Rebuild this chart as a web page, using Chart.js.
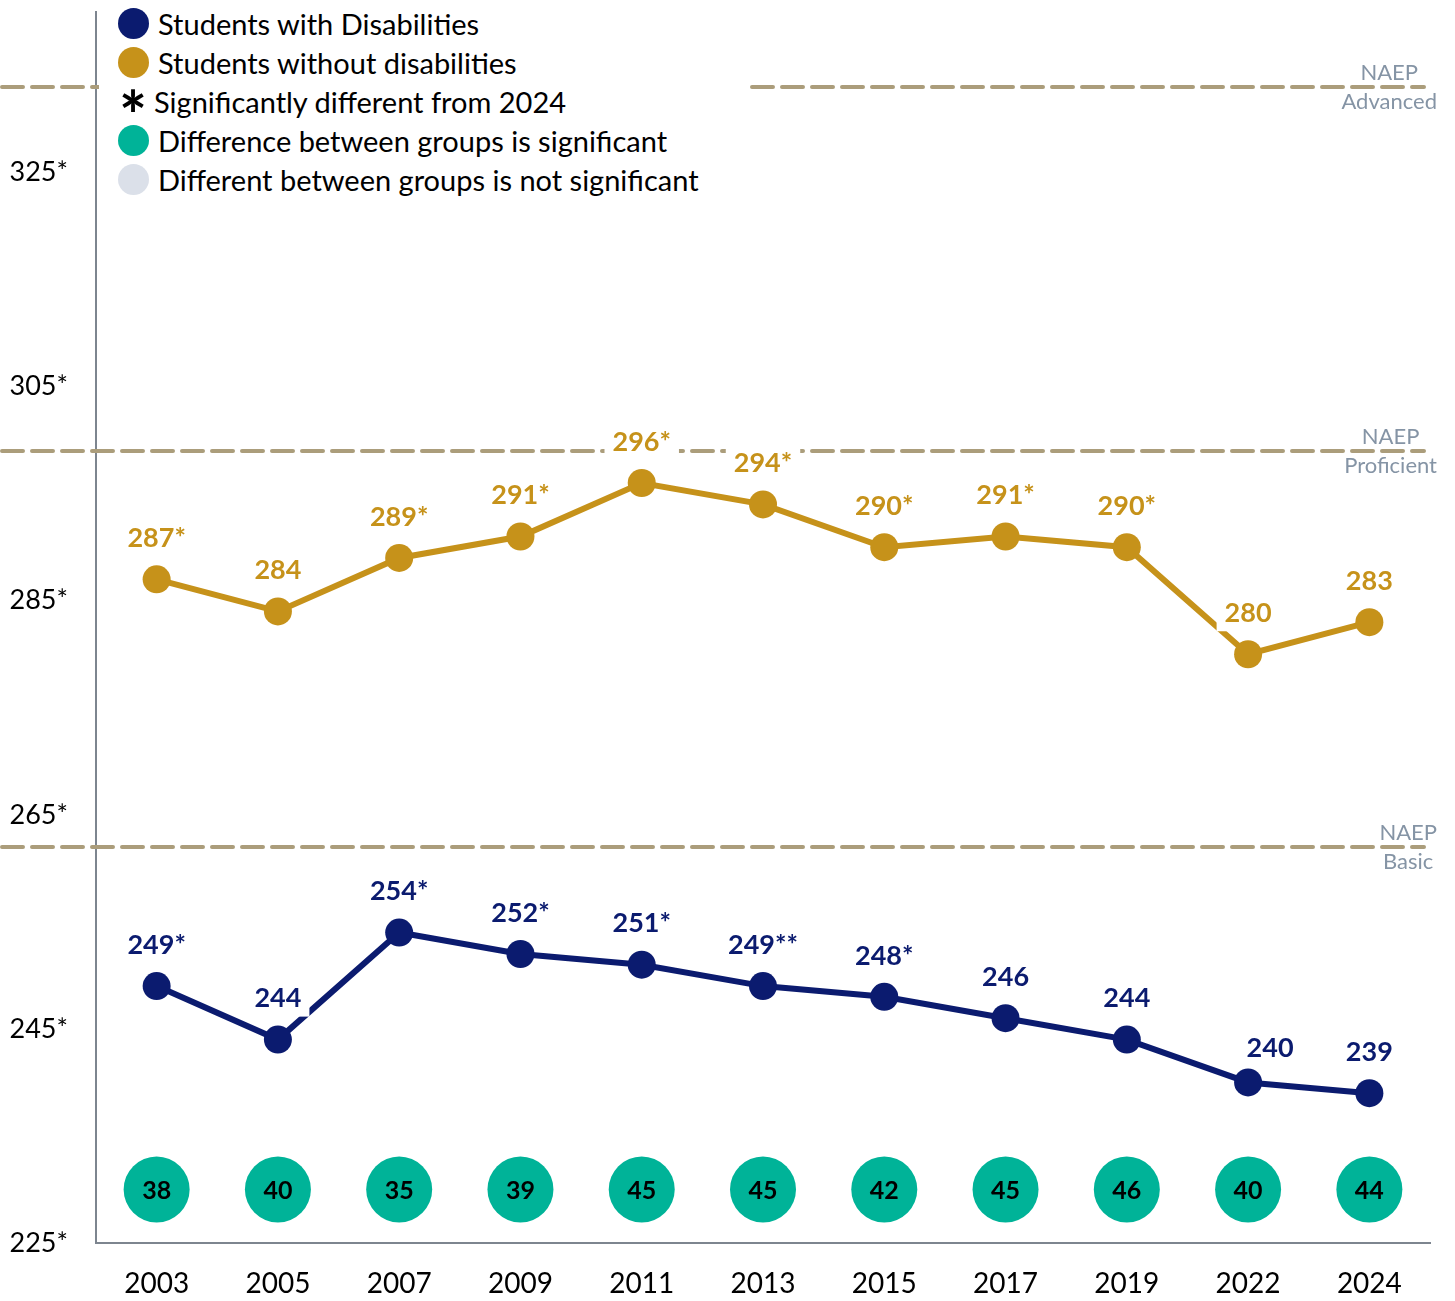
<!DOCTYPE html>
<html>
<head>
<meta charset="utf-8">
<script src="https://cdn.jsdelivr.net/npm/chart.js@4"></script>
<style>
  body { margin: 0; background: #fff; font-family: Lato, sans-serif; }
  #wrap { position: relative; width: 1455px; height: 1301px; }
  #legend { position: absolute; left: 99px; top: 0; width: 646px; height: 200px; background: #fff; }
  .row { position: absolute; left: 0; height: 39px; width: 646px; }
  .dot { position: absolute; left: 19px; top: 4px; width: 31px; height: 31px; border-radius: 50%; }
  .star { position: absolute; left: 20px; top: 0; font-weight: bold; font-size: 66px; line-height: 1; color: #000; }
  .txt { position: absolute; left: 59px; top: 0; font-size: 29px; line-height: 39px; color: #000; white-space: nowrap; }
</style>
</head>
<body>
<div id="wrap">
  <canvas id="grafico" width="1455" height="1301"></canvas>
  <div id="legend"></div>
</div>
<script>
// datos
const anios = ['2003', '2005', '2007', '2009', '2011', '2013', '2015', '2017', '2019', '2022', '2024'];
const conDiscapacidad = [249, 244, 254, 252, 251, 249, 248, 246, 244, 240, 239];
const conDiscapacidadEtiquetas = ['249*', '244', '254*', '252*', '251*', '249**', '248*', '246', '244', '240', '239'];
const sinDiscapacidad = [287, 284, 289, 291, 296, 294, 290, 291, 290, 280, 283];
const sinDiscapacidadEtiquetas = ['287*', '284', '289*', '291*', '296*', '294*', '290*', '291*', '290*', '280', '283'];
const brecha = [38, 40, 35, 39, 45, 45, 42, 45, 46, 40, 44];
const ticksY = [225, 245, 265, 285, 305, 325];
const nivelesNaep = ['Advanced', 'Proficient', 'Basic'];
const cortesNaep = [333, 299, 262];
const leyendaTextos = ['Students with Disabilities', 'Students without disabilities', 'Significantly different from 2024',
  'Difference between groups is significant', 'Different between groups is not significant'];
const leyendaColores = ['#0b1b6f', '#c6921a', null, '#00b398', '#dbe0e9'];

const AZUL = '#0b1b6f';
const DORADO = '#c6921a';
const VERDE = '#00b398';
const GUIA = '#ab9d7b';
const GRIS = '#7d858f';

// leyenda en html
const leyenda = document.getElementById('legend');
leyendaTextos.forEach((texto, i) => {
  const fila = document.createElement('div');
  fila.className = 'row';
  fila.style.top = (4 + i * 39) + 'px';
  if (leyendaColores[i]) {
    fila.innerHTML = '<span class="dot" style="background:' + leyendaColores[i] + '"></span>';
  } else {
    fila.innerHTML = '<span class="star">*</span>';
  }
  fila.innerHTML += '<span class="txt"' + (leyendaColores[i] ? '' : ' style="left:55px"') + '>' + texto + '</span>';
  leyenda.appendChild(fila);
});

// lineas NAEP y etiquetas de datos
const extras = {
  id: 'extras',
  beforeDatasetsDraw(chart) {
    const ctx = chart.ctx;
    const y = chart.scales.y;
    ctx.save();
    ctx.strokeStyle = GUIA;
    ctx.lineWidth = 4;
    ctx.lineCap = 'round';
    ctx.setLineDash([21, 9]);
    cortesNaep.forEach((v, i) => {
      const py = Math.round(y.getPixelForValue(v));
      ctx.beginPath();
      ctx.moveTo(2, py);
      ctx.lineTo(chart.chartArea.right - 6, py);
      ctx.stroke();

      ctx.font = '22px Lato';
      ctx.fillStyle = '#8594a5';
      ctx.textAlign = 'center';
      ctx.textBaseline = 'middle';
      const ancho = Math.max(ctx.measureText('NAEP').width, ctx.measureText(nivelesNaep[i]).width);
      const cx = chart.width - 18 - ancho / 2;
      ctx.fillText('NAEP', cx, py - 14);
      ctx.fillText(nivelesNaep[i], cx, py + 15);
    });
    ctx.restore();
  },
  afterDatasetsDraw(chart) {
    const ctx = chart.ctx;
    ctx.save();
    ctx.textAlign = 'center';
    ctx.textBaseline = 'middle';
    ctx.font = 'bold 27px Lato';
    [[0, conDiscapacidadEtiquetas, AZUL], [1, sinDiscapacidadEtiquetas, DORADO]].forEach(([d, etiquetas, color]) => {
      chart.getDatasetMeta(d).data.forEach((p, i) => {
        let x = p.x;
        let ty = p.y - 42;
        if (d === 0 && i === 9) { x += 22; ty = p.y - 35; }
        const w = ctx.measureText(etiquetas[i]).width;
        ctx.fillStyle = '#fff';
        ctx.fillRect(x - w / 2 - 8, ty - 19, w + 16, 38);
        ctx.fillStyle = color;
        ctx.fillText(etiquetas[i], x, ty + 1);
      });
    });
    ctx.font = 'bold 25px Lato';
    ctx.fillStyle = '#000';
    chart.getDatasetMeta(2).data.forEach((p, i) => {
      ctx.fillText(String(brecha[i]), p.x, p.y + 1);
    });
    ctx.restore();
  }
};

const ctx = document.getElementById('grafico').getContext('2d');

new Chart(ctx, {
  type: 'line',
  data: {
    labels: anios,
    datasets: [
      {
        label: 'Students with Disabilities',
        data: conDiscapacidad,
        borderColor: AZUL,
        backgroundColor: AZUL,
        borderWidth: 6,
        pointRadius: 14,
        pointBorderWidth: 0,
        tension: 0
      },
      {
        label: 'Students without disabilities',
        data: sinDiscapacidad,
        borderColor: DORADO,
        backgroundColor: DORADO,
        borderWidth: 6,
        pointRadius: 14,
        pointBorderWidth: 0,
        tension: 0
      },
      {
        label: 'Difference',
        data: brecha.map(() => 230),
        showLine: false,
        backgroundColor: VERDE,
        borderColor: VERDE,
        pointRadius: 33,
        pointBorderWidth: 0
      }
    ]
  },
  options: {
    responsive: false,
    animation: false,
    devicePixelRatio: 1,
    layout: { autoPadding: false, padding: { top: 12, right: 25, left: 0, bottom: 0 } },
    plugins: {
      legend: { display: false },
      tooltip: { enabled: false }
    },
    scales: {
      x: {
        offset: true,
        grid: { display: false, drawTicks: false },
        border: { display: true, color: GRIS, width: 2 },
        ticks: { color: '#000', font: { family: 'Lato', size: 28 }, padding: 24, maxRotation: 0 },
        afterFit(scale) { scale.height = 58; }
      },
      y: {
        min: 225,
        max: 340,
        grid: { display: false, drawTicks: false },
        border: { display: true, color: GRIS, width: 2 },
        ticks: {
          color: '#000',
          font: { family: 'Lato', size: 27 },
          padding: 28,
          callback: v => v + '*'
        },
        afterBuildTicks(scale) { scale.ticks = ticksY.map(v => ({ value: v })); },
        afterFit(scale) {
          scale.width = 96;
          scale.paddingTop = 0;
          scale.paddingBottom = 0;
        }
      }
    }
  },
  plugins: [extras]
});
</script>
</body>
</html>
